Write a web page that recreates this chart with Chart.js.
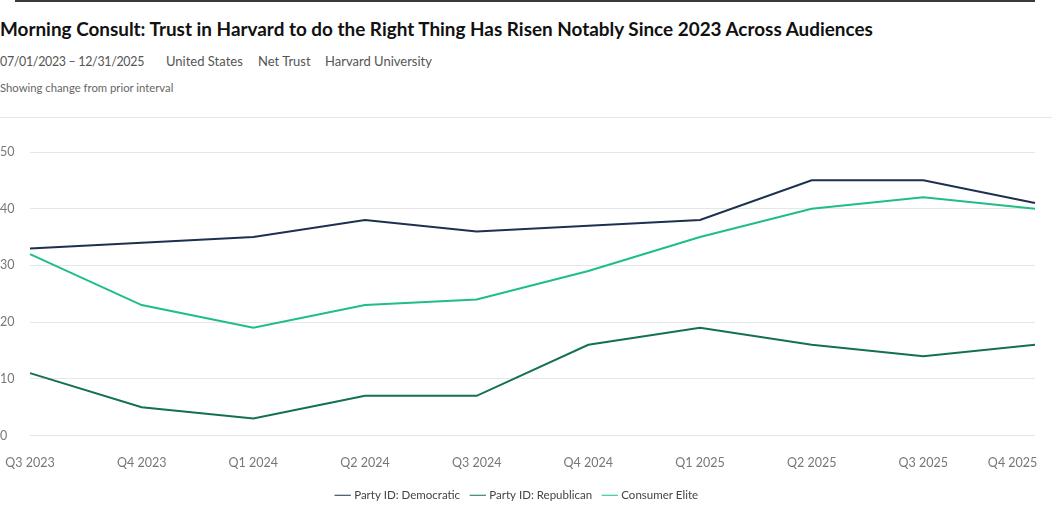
<!DOCTYPE html>
<html>
<head>
<meta charset="utf-8">
<script src="https://cdn.jsdelivr.net/npm/chart.js@4"></script>
<style>
  body { margin: 0; background: #fff; font-family: Lato, sans-serif; }
  #wrap { position: relative; width: 1052px; height: 511px; overflow: hidden; }
  #topline { position: absolute; left: 15px; top: 0; width: 1020px; height: 2px; background: #3a3a3a; }
  #title { position: absolute; left: 0; top: 17px; font-size: 18.9px; font-weight: 700; color: #111; white-space: nowrap; }
  #meta span { position: absolute; top: 53px; font-size: 13px; color: #555; white-space: nowrap; }
  #meta span.date { font-size: 12.4px; letter-spacing: -0.3px; top: 54px; }
  #note { position: absolute; left: 0; top: 81px; font-size: 11.3px; color: #666; }
  #sep { position: absolute; left: 0; top: 117px; width: 1052px; height: 1px; background: #e6e6e6; }
  #box { position: absolute; left: 0; top: 120px; width: 1052px; height: 391px; }
</style>
</head>
<body>
<div id="wrap">
  <div id="topline"></div>
  <div id="title">Morning Consult: Trust in Harvard to do the Right Thing Has Risen Notably Since 2023 Across Audiences</div>
  <div id="meta">
    <span class="date" style="left:0">07/01/2023 – 12/31/2025</span>
    <span style="left:166px">United States</span>
    <span style="left:258px">Net Trust</span>
    <span style="left:325px">Harvard University</span>
  </div>
  <div id="note">Showing change from prior interval</div>
  <div id="sep"></div>
  <div id="box"><canvas id="datavis-canvas"></canvas></div>
</div>
<script>
var quarters = ["Q3 2023", "Q4 2023", "Q1 2024", "Q2 2024", "Q3 2024", "Q4 2024", "Q1 2025", "Q2 2025", "Q3 2025", "Q4 2025"];
var democratic = [33, 34, 35, 38, 36, 37, 38, 45, 45, 41];
var republican = [11, 5, 3, 7, 7, 16, 19, 16, 14, 16];
var consumerElite = [32, 23, 19, 23, 24, 29, 35, 40, 42, 40];
var yTicks = [0, 10, 20, 30, 40, 50];

var datavisCanvas = document.getElementById("datavis-canvas");

new Chart(datavisCanvas, {
  type: "line",
  data: {
    labels: quarters,
    datasets: [
      {
        label: "Party ID: Democratic",
        borderColor: "#1c3150",
        backgroundColor: "#1c3150",
        data: democratic,
      },
      {
        label: "Party ID: Republican",
        borderColor: "#13714f",
        backgroundColor: "#13714f",
        data: republican,
      },
      {
        label: "Consumer Elite",
        borderColor: "#1fbd88",
        backgroundColor: "#1fbd88",
        data: consumerElite,
      },
    ],
  },
  options: {
    responsive: true,
    maintainAspectRatio: false,
    animation: false,
    elements: {
      line: { borderWidth: 2, tension: 0, fill: false },
      point: { radius: 0, hoverRadius: 0 },
    },
    layout: {
      autoPadding: false,
      padding: { left: 0, right: 17, top: 32, bottom: 0 },
    },
    plugins: {
      legend: {
        position: "bottom",
        labels: {
          usePointStyle: true,
          pointStyle: "line",
          boxWidth: 12,
          padding: 12,
          color: "#444",
          font: { family: "Lato", size: 11.5 },
        },
      },
      tooltip: { enabled: false },
    },
    scales: {
      x: {
        grid: { display: false },
        border: { display: false },
        ticks: {
          color: "#777",
          padding: 12,
          maxRotation: 0,
          autoSkip: false,
          font: { family: "Lato", size: 12.5 },
          callback: function (value, index) {
            var label = quarters[index];
            // last label sits flush with the right end of the axis
            if (index === quarters.length - 1) return label + "              ";
            return label;
          },
        },
        afterFit: function (scale) {
          scale.height = 42;
          scale.paddingLeft = 0;
          scale.paddingRight = 0;
        },
      },
      y: {
        min: 0,
        max: 50,
        afterBuildTicks: function (scale) {
          scale.ticks = yTicks.map(function (v) { return { value: v }; });
        },
        grid: { color: "#e4e6ea", drawTicks: false, lineWidth: 1 },
        border: { display: false },
        ticks: {
          color: "#777",
          crossAlign: "far",
          padding: 0,
          font: { family: "Lato", size: 12.5 },
        },
        afterFit: function (scale) {
          scale.width = 30;
          scale.paddingTop = 0;
          scale.paddingBottom = 0;
        },
      },
    },
  },
});
</script>
</body>
</html>
